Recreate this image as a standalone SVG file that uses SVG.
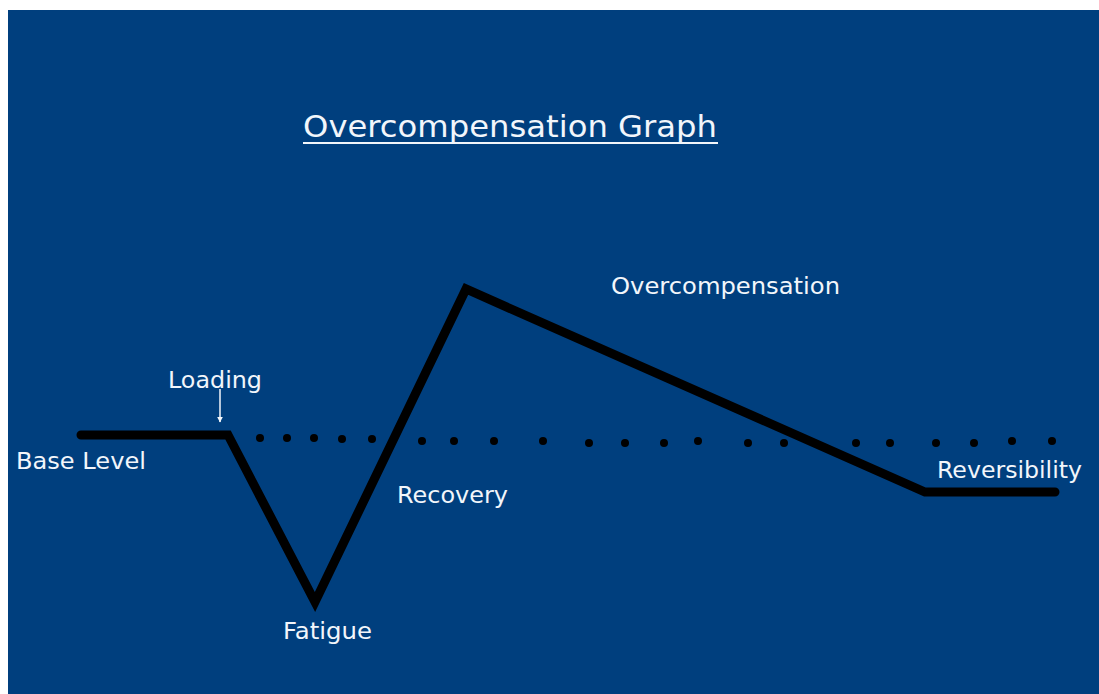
<svg xmlns="http://www.w3.org/2000/svg" width="1099" height="694" viewBox="0 0 1099 694">
  <style>
    .lbl { font-family: "DejaVu Sans", "Liberation Sans", sans-serif; font-size: 23px; fill: #f2f6fb; }
    .title { font-family: "DejaVu Sans", "Liberation Sans", sans-serif; font-size: 30px; fill: #f2f6fb; }
    .curve { fill: none; stroke: #000000; stroke-width: 9; stroke-linejoin: miter; stroke-linecap: round; }
    .dot { fill: #000000; }
  </style>
  <defs>
    <marker id="tip" viewBox="0 0 10 10" refX="9" refY="5" markerWidth="4" markerHeight="4" orient="auto">
      <path d="M0,0 L10,5 L0,10 Z" fill="#f2f6fb"/>
    </marker>
  </defs>

  <!-- canvas -->
  <rect x="0" y="0" width="1099" height="694" fill="#ffffff"/>
  <rect x="8" y="10" width="1091" height="684" fill="#003f7e"/>

  <!-- title -->
  <g id="title">
    <text class="title" x="303" y="137" textLength="414" lengthAdjust="spacingAndGlyphs">Overcompensation Graph</text>
    <line x1="303" y1="143" x2="718" y2="143" stroke="#f2f6fb" stroke-width="2"/>
  </g>

  <!-- baseline reference (dotted) -->
  <g id="baseline-dots">
    <circle class="dot" cx="260" cy="438" r="4"/>
    <circle class="dot" cx="287" cy="438" r="4"/>
    <circle class="dot" cx="314" cy="438" r="4"/>
    <circle class="dot" cx="342" cy="439" r="4"/>
    <circle class="dot" cx="372" cy="439" r="4"/>
    <circle class="dot" cx="422" cy="441" r="4"/>
    <circle class="dot" cx="454" cy="441" r="4"/>
    <circle class="dot" cx="494" cy="441" r="4"/>
    <circle class="dot" cx="543" cy="441" r="4"/>
    <circle class="dot" cx="589" cy="443" r="4"/>
    <circle class="dot" cx="625" cy="443" r="4"/>
    <circle class="dot" cx="664" cy="443" r="4"/>
    <circle class="dot" cx="698" cy="441" r="4"/>
    <circle class="dot" cx="748" cy="443" r="4"/>
    <circle class="dot" cx="784" cy="443" r="4"/>
    <circle class="dot" cx="856" cy="443" r="4"/>
    <circle class="dot" cx="890" cy="443" r="4"/>
    <circle class="dot" cx="936" cy="443" r="4"/>
    <circle class="dot" cx="974" cy="443" r="4"/>
    <circle class="dot" cx="1012" cy="441" r="4"/>
    <circle class="dot" cx="1052" cy="441" r="4"/>
  </g>

  <!-- performance curve -->
  <g id="connectors">
    <polyline class="curve" points="81,435 228,435 315,602 466,289 925,492 1055,492"/>
    <line x1="220" y1="389" x2="220" y2="422" stroke="#f2f6fb" stroke-width="1.5" marker-end="url(#tip)"/>
  </g>

  <!-- labels -->
  <g id="base-level"><text class="lbl" x="16" y="469" textLength="130" lengthAdjust="spacingAndGlyphs">Base Level</text></g>
  <g id="loading"><text class="lbl" x="168" y="388" textLength="94" lengthAdjust="spacingAndGlyphs">Loading</text></g>
  <g id="fatigue"><text class="lbl" x="283" y="639" textLength="89" lengthAdjust="spacingAndGlyphs">Fatigue</text></g>
  <g id="recovery"><text class="lbl" x="397" y="503" textLength="111" lengthAdjust="spacingAndGlyphs">Recovery</text></g>
  <g id="overcompensation"><text class="lbl" x="611" y="294" textLength="229" lengthAdjust="spacingAndGlyphs">Overcompensation</text></g>
  <g id="reversibility"><text class="lbl" x="937" y="478" textLength="145" lengthAdjust="spacingAndGlyphs">Reversibility</text></g>
</svg>
